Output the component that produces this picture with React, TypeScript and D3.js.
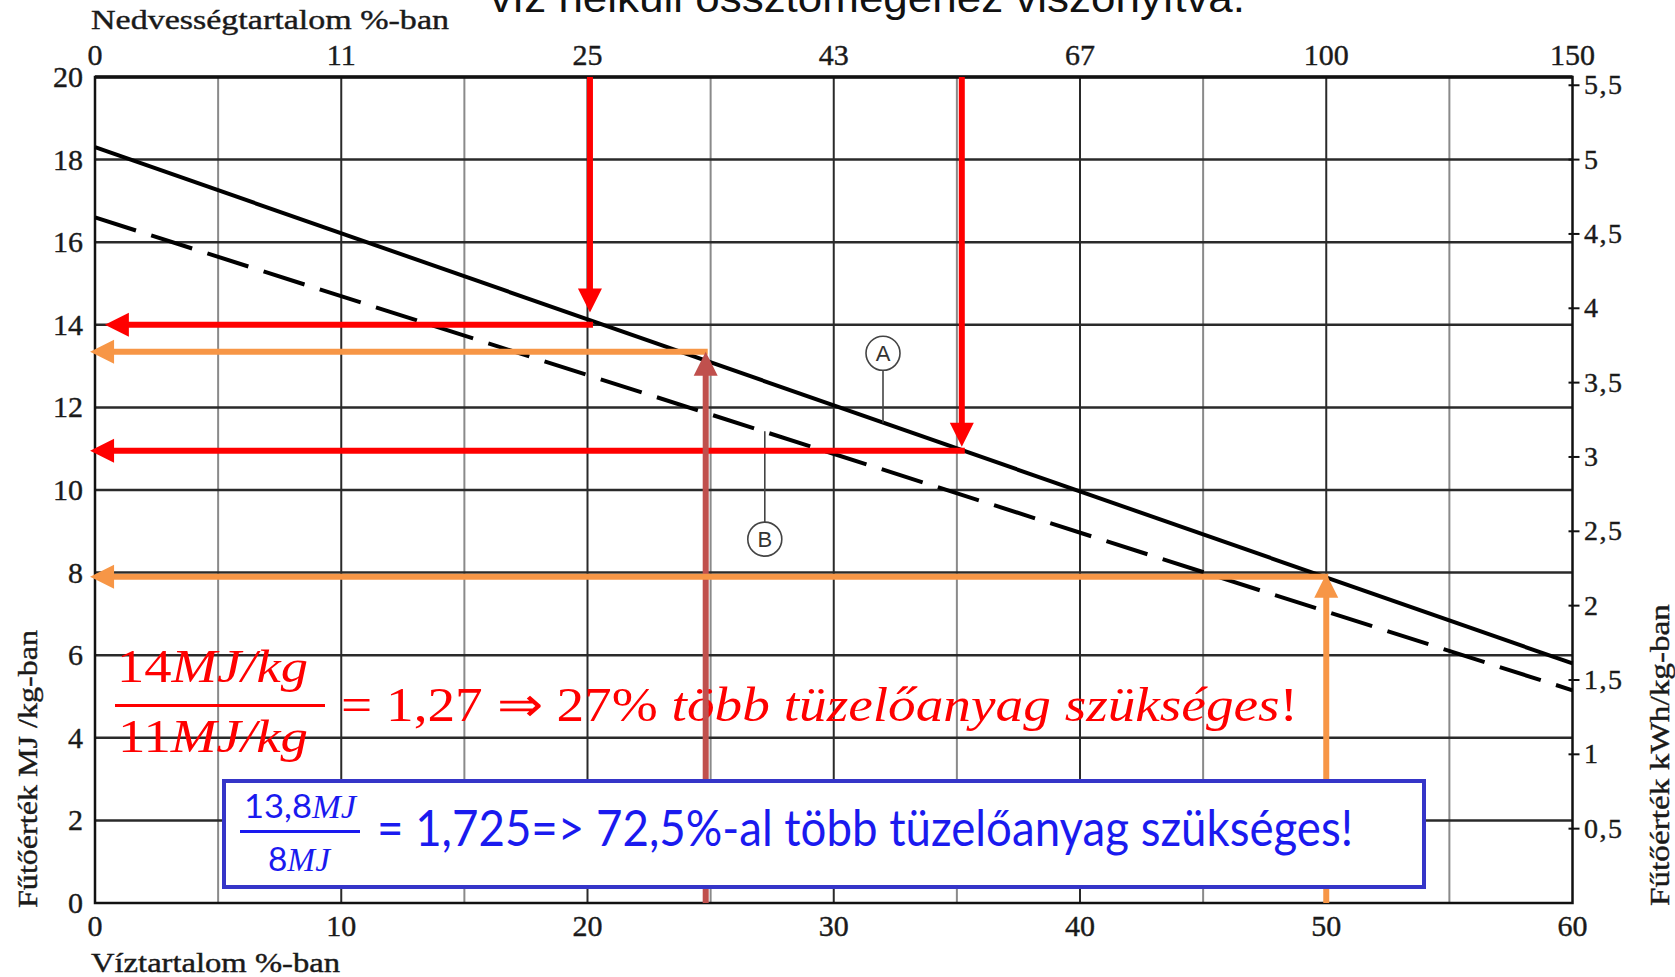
import React from 'react';
import * as d3 from 'd3';

const W = 1675;
const H = 977;

// Water content (%) for the two curves
const waterContent = [0, 60];
const seriesA = [18.3, 5.8];
const seriesB = [16.6, 5.15];

// Axes
const bottomTicks = [0, 10, 20, 30, 40, 50, 60];
const topTickLabels = ['0', '11', '25', '43', '67', '100', '150'];
const leftTicks = [0, 2, 4, 6, 8, 10, 12, 14, 16, 18, 20];
const rightTicks = [0.5, 1, 1.5, 2, 2.5, 3, 3.5, 4, 4.5, 5, 5.5];
const rightTickLabels = ['0,5', '1', '1,5', '2', '2,5', '3', '3,5', '4', '4,5', '5', '5,5'];
const gridMinorX = [5, 15, 25, 35, 45, 55];
const gridMajorX = [10, 20, 30, 40, 50];
const gridY = [2, 4, 6, 8, 10, 12, 14, 16, 18];

// Read-off arrows
const redX = [20.1, 35.2];
const redY = [14.0, 10.95];
const redTipY = [14.3, 11.05];
const redLeftTip = [0.4, -0.2];
const orangeX = [24.8, 50];
const orangeY = [13.35, 7.9];
const orangeTipY = [13.35, 7.97];
const orangeLeftTip = [-0.2, -0.2];

// Curve labels
const labelNames = ['A', 'B'];
const labelX = [32, 27.2];
const labelCircleY = [13.31, 8.81];
const labelAnchorY = [11.63, 11.42];

const RED = '#ff0000';
const ORANGE = '#f79646';
const BROWN = '#c0504d';
const BLUE = '#1a1aef';

export default function App() {
  const x = d3.scaleLinear().domain([0, 60]).range([95, 1572.5]);
  const y = d3.scaleLinear().domain([0, 20]).range([903, 77]);
  const yR = d3.scaleLinear().domain([0, 20 / 3.6]).range([903, 77]);

  const line = d3
    .line<number>()
    .x((_, i) => x(waterContent[i]))
    .y((d) => y(d));

  const L = 24;
  const HW = 12;
  const head = (tx: number, ty: number, dir: 'up' | 'down' | 'left') => {
    if (dir === 'down') return `M${tx},${ty} L${tx - HW},${ty - L} L${tx + HW},${ty - L} Z`;
    if (dir === 'up') return `M${tx},${ty} L${tx - HW},${ty + L} L${tx + HW},${ty + L} Z`;
    return `M${tx},${ty} L${tx + L},${ty - HW} L${tx + L},${ty + HW} Z`;
  };

  const serif = '"Liberation Serif", "Times New Roman", serif';
  const sans = '"Liberation Sans", Arial, sans-serif';
  const tickStyle = { stroke: '#1a1a1a', strokeWidth: 0.4 };

  return (
    <svg
      width={W}
      height={H}
      style={{ position: 'absolute', left: 0, top: 0, background: '#fff' }}
      xmlns="http://www.w3.org/2000/svg"
    >
      <rect x={0} y={0} width={W} height={H} fill="#fff" />

      {/* title, cut off at the top edge as in the source */}
      <text x={490} y={12} fontFamily={sans} fontSize={40} fill="#111" textLength={755} lengthAdjust="spacingAndGlyphs">
        víz nélküli össztömegéhez viszonyítva.
      </text>

      {/* grid */}
      {gridMinorX.map((v) => (
        <line key={'gm' + v} x1={x(v)} x2={x(v)} y1={y(0)} y2={y(20)} stroke="#8a8a8a" strokeWidth={2} />
      ))}
      {gridMajorX.map((v) => (
        <line key={'gM' + v} x1={x(v)} x2={x(v)} y1={y(0)} y2={y(20)} stroke="#2a2a2a" strokeWidth={2} />
      ))}
      {gridY.map((v) => (
        <line key={'gy' + v} x1={x(0)} x2={x(60)} y1={y(v)} y2={y(v)} stroke="#2a2a2a" strokeWidth={2.5} />
      ))}
      <rect x={x(0)} y={y(20)} width={x(60) - x(0)} height={y(0) - y(20)} fill="none" stroke="#111" strokeWidth={2.5} />
      <line x1={x(0)} x2={x(60)} y1={y(20)} y2={y(20)} stroke="#111" strokeWidth={3.5} />

      {/* right ticks */}
      {rightTicks.map((v) => (
        <line key={'rt' + v} x1={x(60) - 4} x2={x(60) + 7} y1={yR(v)} y2={yR(v)} stroke="#111" strokeWidth={2} />
      ))}

      {/* tick labels */}
      {leftTicks.map((v) => (
        <text key={'lt' + v} x={83} y={y(v) + 10} textAnchor="end" fontFamily={serif} fontSize={30} fill="#1a1a1a" {...tickStyle}>
          {v}
        </text>
      ))}
      {bottomTicks.map((v) => (
        <text key={'bt' + v} x={x(v)} y={936} textAnchor="middle" fontFamily={serif} fontSize={30} fill="#1a1a1a" {...tickStyle}>
          {v}
        </text>
      ))}
      {bottomTicks.map((v, i) => (
        <text key={'tt' + v} x={x(v)} y={65} textAnchor="middle" fontFamily={serif} fontSize={30} fill="#1a1a1a" {...tickStyle}>
          {topTickLabels[i]}
        </text>
      ))}
      {rightTicks.map((v, i) => (
        <text
          key={'rl' + v}
          x={1584}
          y={yR(v) + 9}
          textAnchor="start"
          fontFamily={serif}
          fontSize={28}
          letterSpacing={1.5}
          fill="#1a1a1a"
          {...tickStyle}
        >
          {rightTickLabels[i]}
        </text>
      ))}

      {/* axis titles */}
      <text x={91} y={29} fontFamily={serif} fontSize={27} fill="#1a1a1a" textLength={358} lengthAdjust="spacingAndGlyphs" {...tickStyle}>
        Nedvességtartalom %-ban
      </text>
      <text x={91} y={972} fontFamily={serif} fontSize={27} fill="#1a1a1a" textLength={249} lengthAdjust="spacingAndGlyphs" {...tickStyle}>
        Víztartalom %-ban
      </text>
      <text
        transform="translate(37,769) rotate(-90)"
        textAnchor="middle"
        fontFamily={serif}
        fontSize={27}
        fill="#1a1a1a"
        textLength={278}
        lengthAdjust="spacingAndGlyphs"
        {...tickStyle}
      >
        Fűtőérték MJ /kg-ban
      </text>
      <text
        transform="translate(1669,755) rotate(-90)"
        textAnchor="middle"
        fontFamily={serif}
        fontSize={27}
        fill="#1a1a1a"
        textLength={302}
        lengthAdjust="spacingAndGlyphs"
        {...tickStyle}
      >
        Fűtőérték kWh/kg-ban
      </text>

      {/* curves */}
      <path d={line(seriesA) || ''} fill="none" stroke="#000" strokeWidth={4} />
      <path d={line(seriesB) || ''} fill="none" stroke="#000" strokeWidth={4} strokeDasharray="43 16" />

      {/* curve labels */}
      {labelNames.map((n, i) => {
        const cx = x(labelX[i]);
        const cy = y(labelCircleY[i]);
        const ay = y(labelAnchorY[i]);
        const r = 17;
        const ly = i === 0 ? cy + r : cy - r;
        return (
          <g key={n}>
            <line x1={cx} x2={cx} y1={ly} y2={ay} stroke="#444" strokeWidth={1.6} />
            <circle cx={cx} cy={cy} r={r} fill="#fff" stroke="#444" strokeWidth={1.6} />
            <text x={cx} y={cy + 8} textAnchor="middle" fontFamily={sans} fontSize={22} fill="#333">
              {n}
            </text>
          </g>
        );
      })}

      {/* red formula */}
      <text x={117} y={682} fontFamily={serif} fontSize={46} fill={RED} textLength={191} lengthAdjust="spacingAndGlyphs">
        <tspan>14</tspan>
        <tspan fontStyle="italic">MJ/kg</tspan>
      </text>
      <line x1={115} x2={325} y1={705.5} y2={705.5} stroke={RED} strokeWidth={3} />
      <text x={118} y={752} fontFamily={serif} fontSize={46} fill={RED} textLength={190} lengthAdjust="spacingAndGlyphs">
        <tspan>11</tspan>
        <tspan fontStyle="italic">MJ/kg</tspan>
      </text>
      <text x={341} y={721} fontFamily={serif} fontSize={48} fill={RED} textLength={957} lengthAdjust="spacingAndGlyphs">
        <tspan>= 1,27 ⇒ 27% </tspan>
        <tspan fontStyle="italic">több tüzelőanyag szükséges</tspan>
        <tspan>!</tspan>
      </text>

      {/* red arrows */}
      {redX.map((v, i) => {
        const xs = x(v);
        const tip = y(redTipY[i]);
        const yh = y(redY[i]);
        const left = x(redLeftTip[i]);
        return (
          <g key={'red' + i}>
            <line x1={xs} x2={xs} y1={y(20)} y2={tip - L + 1} stroke={RED} strokeWidth={6} />
            <path d={head(xs, tip, 'down')} fill={RED} />
            <line x1={xs + 3} x2={left + L - 1} y1={yh} y2={yh} stroke={RED} strokeWidth={6} />
            <path d={head(left, yh, 'left')} fill={RED} />
          </g>
        );
      })}

      {/* orange / brown arrows */}
      {orangeX.map((v, i) => {
        const xs = x(v);
        const yh = y(orangeY[i]);
        const tip = y(orangeTipY[i]);
        const left = x(orangeLeftTip[i]);
        const vc = i === 0 ? BROWN : ORANGE;
        return (
          <g key={'or' + i}>
            <line x1={xs + 2} x2={left + L - 1} y1={yh} y2={yh} stroke={ORANGE} strokeWidth={6} />
            <path d={head(left, yh, 'left')} fill={ORANGE} />
            <line x1={xs} x2={xs} y1={y(0)} y2={tip + L - 1} stroke={vc} strokeWidth={6} />
            <path d={head(xs, tip, 'up')} fill={vc} />
          </g>
        );
      })}

      {/* blue box */}
      <rect x={224} y={781} width={1200} height={106} fill="#fff" stroke="#3535c8" strokeWidth={4} />
      <text x={244} y={818} fontFamily={sans} fontSize={33} fill={BLUE} textLength={112} lengthAdjust="spacingAndGlyphs">
        <tspan fontFamily="Lato, sans-serif">13,8</tspan>
        <tspan fontFamily={serif} fontStyle="italic">MJ</tspan>
      </text>
      <line x1={240} x2={360} y1={831.5} y2={831.5} stroke={BLUE} strokeWidth={3} />
      <text x={268} y={871} fontFamily={sans} fontSize={33} fill={BLUE} textLength={62} lengthAdjust="spacingAndGlyphs">
        <tspan fontFamily="Lato, sans-serif">8</tspan>
        <tspan fontFamily={serif} fontStyle="italic">MJ</tspan>
      </text>
      <text x={377} y={846} fontFamily="Lato, sans-serif" fontSize={50} fill={BLUE} textLength={976} lengthAdjust="spacingAndGlyphs">
        = 1,725=&gt; 72,5%-al több tüzelőanyag szükséges!
      </text>
    </svg>
  );
}
